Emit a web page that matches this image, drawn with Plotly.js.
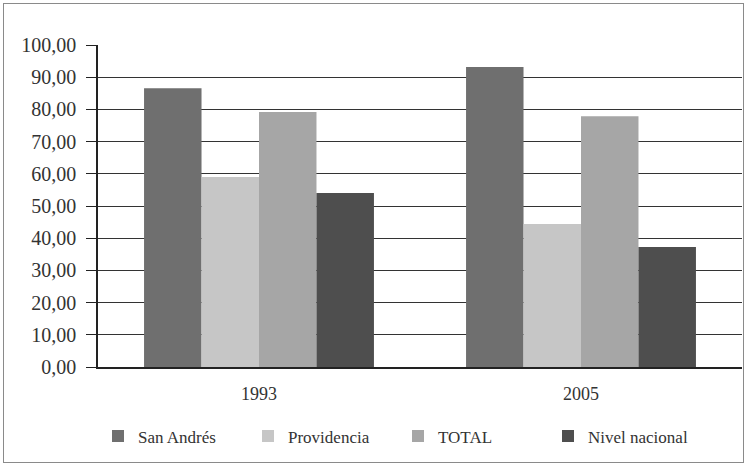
<!DOCTYPE html>
<html>
<head>
<meta charset="utf-8">
<script src="https://cdn.plot.ly/plotly-3.0.1.min.js"></script>
<style>
  html, body { margin: 0; padding: 0; background: #fff; }
  #wrap { position: relative; width: 748px; height: 467px; }
  #chart { width: 748px; height: 467px; }
  #frame { position: absolute; left: 3px; top: 3px; width: 739px; height: 458px;
           border: 1.5px solid #8a8a8a; pointer-events: none; }
</style>
</head>
<body>
<div id="wrap">
  <div id="chart"></div>
  <div id="frame"></div>
</div>
<script>
const categories = ["1993", "2005"];
const seriesNames = ["San Andrés", "Providencia", "TOTAL", "Nivel nacional"];
const sanAndres = [86.6, 93.2];
const providencia = [59.0, 44.4];
const total = [79.2, 77.9];
const nivelNacional = [54.0, 37.3];
const yTicks = [0, 10, 20, 30, 40, 50, 60, 70, 80, 90, 100];

const colors = ["#6f6f6f", "#c6c6c6", "#a6a6a6", "#4e4e4e"];
const values = [sanAndres, providencia, total, nivelNacional];

const traces = values.map((v, i) => ({
  type: "bar",
  name: seriesNames[i],
  x: categories,
  y: v,
  marker: { color: colors[i], line: { width: 0 } },
  hoverinfo: "none"
}));

const serifFam = "Liberation Serif";

const layout = {
  width: 748,
  height: 467,
  paper_bgcolor: "#ffffff",
  plot_bgcolor: "#ffffff",
  separators: ", ",
  barmode: "group",
  bargap: 0.286,
  bargroupgap: 0,
  margin: { l: 98, r: 6, t: 45, b: 100, autoexpand: false },
  font: { family: serifFam, size: 16, color: "#333" },
  xaxis: {
    type: "category",
    showline: true,
    linecolor: "#222",
    linewidth: 1.5,
    showgrid: false,
    ticks: "",
    tickfont: { family: serifFam, size: 18, color: "#333" },
    ticklabelstandoff: 10,
    zeroline: false
  },
  yaxis: {
    range: [0, 100],
    tickvals: yTicks,
    tickformat: ".2f",
    showline: true,
    linecolor: "#222",
    linewidth: 1.5,
    showgrid: true,
    gridcolor: "#333",
    gridwidth: 1.3,
    ticks: "outside",
    ticklen: 10,
    tickwidth: 1.3,
    tickcolor: "#222",
    ticklabelstandoff: 6,
    tickfont: { family: serifFam, size: 20, color: "#333" },
    zeroline: false,
    fixedrange: true
  },
  legend: {
    orientation: "h",
    x: 0.0,
    xanchor: "left",
    y: -0.16,
    yanchor: "top",
    font: { family: serifFam, size: 17, color: "#333" },
    entrywidth: 105,
    entrywidthmode: "pixels",
    itemwidth: 30,
    traceorder: "normal"
  },
  showlegend: true
};

Plotly.newPlot("chart", traces, layout, { displayModeBar: false });
</script>
</body>
</html>
